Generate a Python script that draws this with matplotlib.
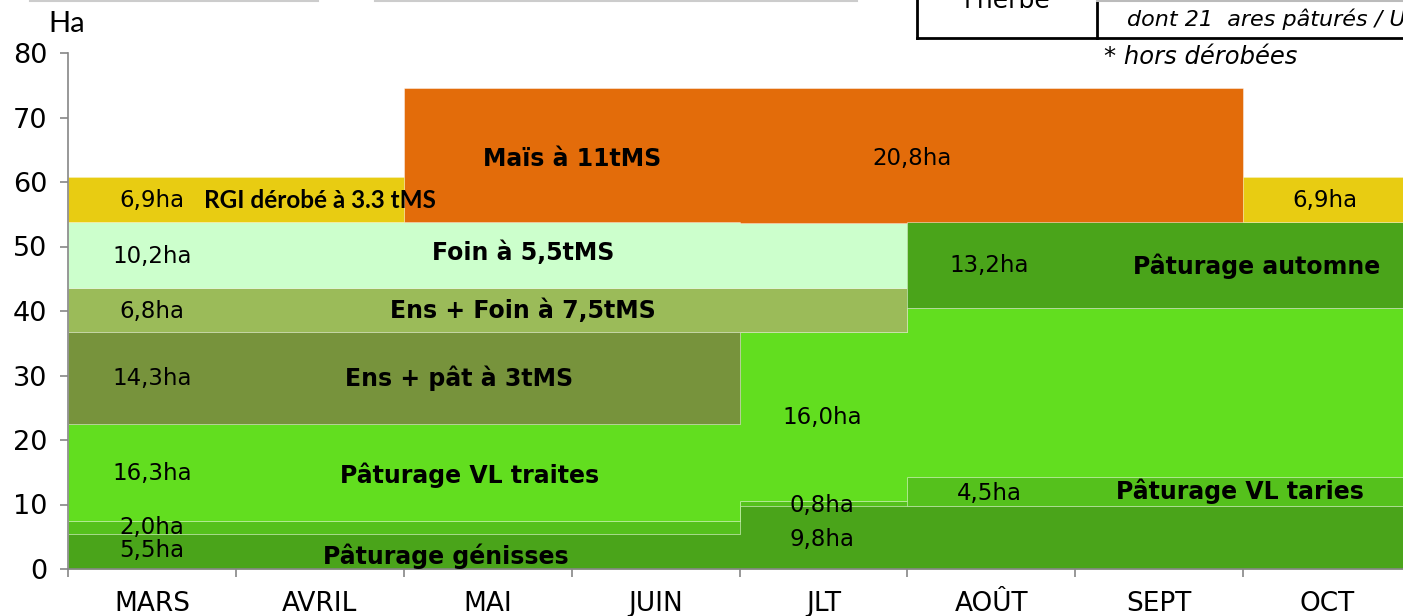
import numpy as np
import matplotlib
matplotlib.use("Agg")
from matplotlib import pyplot as plt

months = ["MARS", "AVRIL", "MAI", "JUIN", "JLT", "AOÛT", "SEPT", "OCT"]

# surfaces (ha) par mois, du bas vers le haut de la pile
genisses   = [5.5, 5.5, 5.5, 5.5, 9.8, 9.8, 9.8, 9.8]
bande_2ha  = [2.0, 2.0, 2.0, 2.0, 0.7, 0.0, 0.0, 0.0]
vl_taries  = [0.0, 0.0, 0.0, 0.0, 0.0, 4.5, 4.5, 4.5]
vl_traites = [15.0, 15.0, 15.0, 15.0, 26.2, 26.2, 26.2, 26.2]
ens_pat    = [14.3, 14.3, 14.3, 14.3, 0.0, 0.0, 0.0, 0.0]
ens_foin   = [6.8, 6.8, 6.8, 6.8, 6.8, 0.0, 0.0, 0.0]
foin       = [10.2, 10.2, 10.2, 10.2, 10.2, 0.0, 0.0, 0.0]
automne    = [0.0, 0.0, 0.0, 0.0, 0.0, 13.3, 13.3, 13.3]
mais       = [0.0, 0.0, 20.8, 20.8, 20.8, 20.8, 20.8, 0.0]
rgi        = [6.9, 6.9, 0.0, 0.0, 0.0, 0.0, 0.0, 6.9]

layers = [
    (genisses, "#4aa41a"),
    (bande_2ha, "#55c11c"),
    (vl_taries, "#55c11c"),
    (vl_traites, "#62de1f"),
    (ens_pat, "#77933c"),
    (ens_foin, "#9bbb59"),
    (foin, "#ccffcc"),
    (automne, "#4aa41a"),
    (mais, "#e36c0a"),
    (rgi, "#e8cc12"),
]

W, H = 1403, 616
fig = plt.figure(figsize=(W / 100, H / 100), dpi=100)
ax = fig.add_axes([68 / W, (H - 569) / H, (1411 - 68) / W, (569 - 53) / H])

x = np.arange(len(months) + 1)
base = np.zeros(len(months))
for vals, col in layers:
    v = np.array(vals)
    top = base + v
    ax.fill_between(x, np.append(base, base[-1]), np.append(top, top[-1]),
                    step="post", facecolor=col, edgecolor=(1, 1, 1, 0.25),
                    linewidth=0.7)
    base = top

ax.set_xlim(0, 8)
ax.set_ylim(0, 80)
ax.set_yticks(range(0, 81, 10))
ax.set_xticks(x)
ax.set_xticklabels([])
ax.set_xticks(np.arange(len(months)) + 0.5, minor=True)
ax.set_xticklabels(months, minor=True)
ax.tick_params(axis="x", which="minor", length=0, pad=16, labelsize=19)
ax.tick_params(axis="x", which="major", length=6, color="#868686", width=1.2)
ax.tick_params(axis="y", length=6, color="#868686", width=1.2, pad=9, labelsize=19.5)
for s in ["top", "right"]:
    ax.spines[s].set_visible(False)
for s in ["left", "bottom"]:
    ax.spines[s].set_color("#868686")
    ax.spines[s].set_linewidth(1.2)

# étiquettes de valeurs
vals_lbl = [
    (0.5, 57.2, "6,9ha"), (7.49, 57.2, "6,9ha"), (5.03, 63.7, "20,8ha"),
    (0.5, 48.4, "10,2ha"), (5.49, 47.0, "13,2ha"), (0.5, 39.9, "6,8ha"),
    (0.5, 29.5, "14,3ha"), (4.49, 23.5, "16,0ha"), (0.5, 14.8, "16,3ha"),
    (0.5, 6.4, "2,0ha"), (0.5, 2.8, "5,5ha"), (4.49, 9.9, "0,8ha"),
    (4.49, 4.6, "9,8ha"), (5.49, 11.7, "4,5ha"),
]
for xx, yy, t in vals_lbl:
    ax.text(xx, yy, t, ha="center", va="center", fontsize=16.5)

bold_lbl = [
    (3.0, 63.5, "Maïs à 11tMS"), (2.71, 49.0, "Foin à 5,5tMS"),
    (7.08, 47.0, "Pâturage automne"), (2.71, 40.0, "Ens + Foin à 7,5tMS"),
    (2.33, 29.5, "Ens + pât à 3tMS"), (2.39, 14.5, "Pâturage VL traites"),
    (2.25, 1.9, "Pâturage génisses"), (6.98, 12.0, "Pâturage VL taries"),
]
for xx, yy, t in bold_lbl:
    ax.text(xx, yy, t, ha="center", va="center", fontsize=17, fontweight="bold")

ax.text(1.5, 57.2, "RGI dérobé à 3.3 tMS", ha="center", va="center",
        fontsize=17.5, fontweight="bold", family="Lato")

# textes et cadre du tableau tronqué en haut
fig.text(48 / W, 1 - 24 / H, "Ha", ha="left", va="center", fontsize=21, family="Lato")
fig.text(1104 / W, 1 - 57 / H, "* hors dérobées", ha="left", va="center",
         fontsize=17.5, style="italic")
fig.text(1127 / W, 1 - 19 / H, "dont 21  ares pâturés / UG", ha="left",
         va="center", fontsize=16, style="italic")
fig.text(1007 / W, 1 - 1 / H, "l'herbe", ha="center", va="center", fontsize=18)
fig.add_artist(plt.Line2D([917 / W, 1 + 0.01], [1 - 38 / H, 1 - 38 / H], color="k", lw=2))
fig.add_artist(plt.Line2D([917 / W, 917 / W], [1 - 38 / H, 1.01], color="k", lw=2))
fig.add_artist(plt.Line2D([1097 / W, 1097 / W], [1 - 38 / H, 1.01], color="k", lw=2))
fig.add_artist(plt.Line2D([1097 / W, 1.01], [1 - 1 / H, 1 - 1 / H], color="#bbbbbb", lw=1.5))
fig.add_artist(plt.Line2D([30 / W, 318 / W], [1 - 1 / H, 1 - 1 / H], color="#cccccc", lw=1.5))
fig.add_artist(plt.Line2D([375 / W, 857 / W], [1 - 1 / H, 1 - 1 / H], color="#cccccc", lw=1.5))

fig.savefig("out.png", dpi=100)
